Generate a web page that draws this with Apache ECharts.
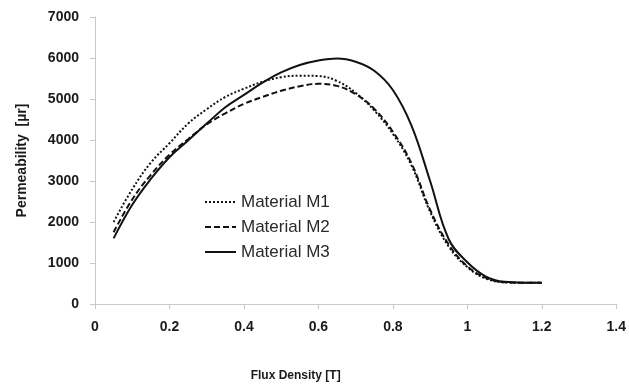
<!DOCTYPE html>
<html>
<head>
<meta charset="utf-8">
<script src="https://cdn.jsdelivr.net/npm/echarts@6/dist/echarts.min.js"></script>
<style>
  html, body { margin: 0; padding: 0; background: #fff; }
  #chart { width: 629px; height: 387px; }
</style>
</head>
<body>
<div id="chart"></div>
<script>
// Flux density samples [T]
const fluxDensity = [0.05, 0.10, 0.15, 0.20, 0.25, 0.30, 0.35, 0.40, 0.45, 0.50, 0.55, 0.60,
                     0.65, 0.70, 0.75, 0.80, 0.85, 0.90, 0.95, 1.00, 1.05, 1.10, 1.15, 1.20];

// Relative permeability for each material
const materialM1 = [2000, 2800, 3450, 3920, 4400, 4750, 5050, 5250, 5420, 5530, 5570, 5560,
                    5440, 5150, 4720, 4150, 3380, 2250, 1400, 900, 620, 530, 520, 520];
const materialM2 = [1750, 2550, 3150, 3640, 4020, 4380, 4650, 4880, 5050, 5200, 5310, 5370,
                    5320, 5120, 4760, 4200, 3430, 2300, 1450, 920, 640, 530, 520, 520];
const materialM3 = [1600, 2420, 3050, 3580, 3990, 4400, 4800, 5100, 5400, 5650, 5830, 5940,
                    5990, 5910, 5690, 5220, 4350, 3000, 1580, 1020, 670, 540, 520, 520];

const seriesNames = ['Material M1', 'Material M2', 'Material M3'];
const xTicks = { min: 0, max: 1.4, step: 0.2 };
const yTicks = { min: 0, max: 7000, step: 1000 };

function pairs(ys) {
  return fluxDensity.map((x, i) => [x, ys[i]]);
}

const chart = echarts.init(document.getElementById('chart'), null, { renderer: 'canvas' });

const axisFont = { fontFamily: 'Liberation Sans', fontWeight: 'bold', color: '#1a1a1a' };

chart.setOption({
  animation: false,
  backgroundColor: '#ffffff',
  grid: { left: 95, right: 6, top: 17, bottom: 79, containLabel: false },
  legend: {
    orient: 'vertical',
    left: 199,
    top: 187,
    itemWidth: 31,
    itemHeight: 14,
    itemGap: 5,
    data: seriesNames,
    itemStyle: { opacity: 0 },
    textStyle: { fontFamily: 'Liberation Sans', fontSize: 17, color: '#2a2a2a', lineHeight: 20 }
  },
  xAxis: {
    type: 'value',
    min: xTicks.min,
    max: xTicks.max,
    interval: xTicks.step,
    name: 'Flux Density [T]',
    nameLocation: 'middle',
    nameGap: 66,
    nameTextStyle: Object.assign({ fontSize: 12, padding: [0, 120, 0, 0] }, axisFont),
    splitLine: { show: false },
    axisLine: { lineStyle: { color: '#c8c8c8', width: 1 } },
    axisTick: { show: true, inside: false, length: 5, lineStyle: { color: '#c8c8c8' } },
    axisLabel: Object.assign({ fontSize: 14, margin: 16, formatter: v => String(v) }, axisFont)
  },
  yAxis: {
    type: 'value',
    min: yTicks.min,
    max: yTicks.max,
    interval: yTicks.step,
    name: 'Permeability  [\u00b5r]',
    nameLocation: 'middle',
    nameGap: 66,
    nameRotate: 90,
    nameTextStyle: Object.assign({ fontSize: 14 }, axisFont),
    splitLine: { show: false },
    axisLine: { show: true, lineStyle: { color: '#c8c8c8', width: 1 } },
    axisTick: { show: true, inside: false, length: 5, lineStyle: { color: '#c8c8c8' } },
    axisLabel: Object.assign({ fontSize: 14, margin: 16, formatter: v => String(v) }, axisFont)
  },
  series: [
    {
      name: seriesNames[0], type: 'line', smooth: 0.4, symbol: 'none',
      data: pairs(materialM1),
      lineStyle: { color: '#111', width: 2, type: [2, 2] },
      itemStyle: { color: '#111' }
    },
    {
      name: seriesNames[1], type: 'line', smooth: 0.4, symbol: 'none',
      data: pairs(materialM2),
      lineStyle: { color: '#111', width: 2, type: [6, 3] },
      itemStyle: { color: '#111' }
    },
    {
      name: seriesNames[2], type: 'line', smooth: 0.4, symbol: 'none',
      data: pairs(materialM3),
      lineStyle: { color: '#111', width: 2, type: 'solid' },
      itemStyle: { color: '#111' }
    }
  ]
});
</script>
</body>
</html>
